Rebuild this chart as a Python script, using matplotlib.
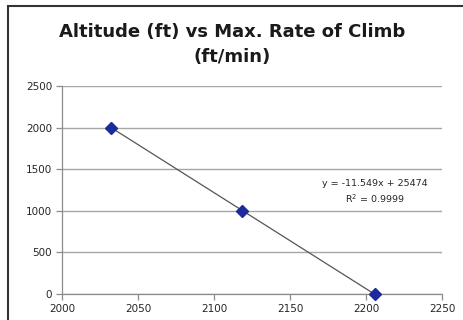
import numpy as np
import matplotlib.pyplot as plt
from matplotlib.patches import Rectangle

# data
rate_of_climb = [2032.5, 2118.5, 2205.7]   # x (ft/min)
altitude = [2000, 1000, 0]                 # y (ft)
x_ticks = [2000, 2050, 2100, 2150, 2200, 2250]
y_ticks = [0, 500, 1000, 1500, 2000, 2500]

fig = plt.figure(figsize=(4.64, 3.2), dpi=100)
ax = fig.add_axes([62/464, 1 - 294/320, 380/464, 208/320])

# linear trendline over the data range
slope, icpt = np.polyfit(rate_of_climb, altitude, 1)
xt = np.array([min(rate_of_climb), max(rate_of_climb)])
ax.plot(xt, slope*xt + icpt, color='#555555', lw=0.9, zorder=2)
ax.plot(rate_of_climb, altitude, linestyle='none', marker='D', ms=6.5,
        color='#1c2a9c', mec='#1c2a9c', zorder=3, clip_on=False)

ax.set_xlim(2000, 2250)
ax.set_ylim(0, 2500)
ax.set_xticks(x_ticks)
ax.set_yticks(y_ticks)
ax.grid(axis='y', color='#a6a6a6', lw=1.0)
ax.set_axisbelow(True)
for s in ['top', 'right']:
  ax.spines[s].set_visible(False)
for s in ['left', 'bottom']:
  ax.spines[s].set_color('#8c8c8c')
  ax.spines[s].set_linewidth(0.9)
ax.tick_params(axis='both', colors='#8c8c8c', labelcolor='#262626',
               labelsize=7.5, length=4, width=0.9, direction='out')
ax.tick_params(axis='x', pad=3)
ax.tick_params(axis='y', pad=3)

fig.text(0.5, 1 - 32/320, 'Altitude (ft) vs Max. Rate of Climb', ha='center',
         va='center', fontsize=13, fontweight='bold', color='#1a1a1a')
fig.text(0.5, 1 - 57/320, '(ft/min)', ha='center', va='center',
         fontsize=13, fontweight='bold', color='#1a1a1a')

fig.text(375/464, 1 - 184/320, 'y = -11.549x + 25474', ha='center', va='center',
         fontsize=6.8, color='#262626')
fig.text(375/464, 1 - 199/320, 'R$^2$ = 0.9999', ha='center', va='center',
         fontsize=6.8, color='#262626')

# chart border
fig.patches.append(Rectangle((8/464, -0.1), 1.2, 1.1 - 6/320, transform=fig.transFigure,
                             fill=False, ec='#333333', lw=1.5))

fig.savefig('out.png', dpi=100)
